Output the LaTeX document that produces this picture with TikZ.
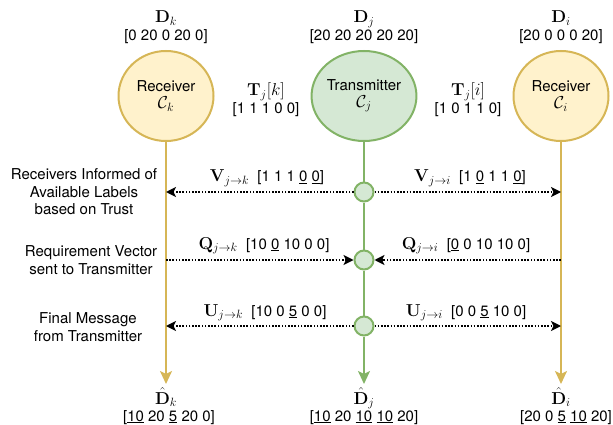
\documentclass[tikz,border=0pt]{standalone}
\usepackage[no-math]{fontspec}
\setmainfont{TeX Gyre Heros}
\usetikzlibrary{arrows.meta,shapes.geometric}
\definecolor{rcvfill}{HTML}{FFF2CC}
\definecolor{rcvline}{HTML}{D6B656}
\definecolor{txfill}{HTML}{D5E8D4}
\definecolor{txline}{HTML}{82B366}
% formulas are set a little larger than the surrounding text
\newcommand\mth[1]{{\fontsize{17.28}{19}\selectfont$#1$}}
\tikzset{
  party/.style={ellipse, line width=2pt, minimum width=95pt, minimum height=90pt,
    align=center, inner sep=0pt},
  rcv/.style={party, draw=rcvline, fill=rcvfill},
  tx/.style={party, draw=txline, fill=txfill},
  hub/.style={circle, draw=txline, fill=txfill, line width=2pt, minimum size=19pt, inner sep=0pt},
  rwire/.style={draw=rcvline, line width=2pt},
  gwire/.style={draw=txline, line width=2pt},
  downtip/.style={-{Stealth[length=13pt,width=12pt,inset=3pt]}},
  msg/.style={line width=1.6pt, dash pattern=on 1.6pt off 1.6pt,
    -{Stealth[length=10pt,width=10pt,inset=2.5pt]}},
  bl/.style={inner sep=0pt, anchor=base},
  note/.style={inner sep=0pt, align=center, font=\fontsize{15}{17.5}\selectfont},
}
\begin{document}
\begin{tikzpicture}[x=1pt, y=-1pt, font=\fontsize{15}{16.5}\selectfont]
\useasboundingbox (0,0) rectangle (613,425);

% the three parties
\node[rcv] (ck) at (166,96) {Receiver\\[0pt]\mth{\mathcal{C}_k}};
\node[tx]  (cj) at (364,96) {Transmitter\\[0pt]\mth{\mathcal{C}_j}};
\node[rcv] (ci) at (561,96) {Receiver\\[0pt]\mth{\mathcal{C}_i}};

% datasets held before the exchange
\node[bl] (dk) at (166,23) {\mth{\mathbf{D}_k}};
\node[bl] (dkv) at (166,41) {[0 20 0 20 0]};
\node[bl] (dj) at (364,23) {\mth{\mathbf{D}_j}};
\node[bl] (djv) at (364,41) {[20 20 20 20 20]};
\node[bl] (di) at (561,23) {\mth{\mathbf{D}_i}};
\node[bl] (div) at (561,41) {[20 0 0 0 20]};

% trust vectors
\node[bl] (tk) at (266,96) {\mth{\mathbf{T}_j[k]}};
\node[bl] (tkv) at (266,114) {[1 1 1 0 0]};
\node[bl] (ti) at (468,96) {\mth{\mathbf{T}_j[i]}};
\node[bl] (tiv) at (468,114) {[1 0 1 1 0]};

% timeline stations on the transmitter line
\node[hub] (h1) at (364,192) {};
\node[hub] (h2) at (364,260) {};
\node[hub] (h3) at (364,326) {};

% timeline ends
\coordinate (ek) at (166,384);
\coordinate (ej) at (364,384);
\coordinate (ei) at (561,384);

% points on the receiver lines
\coordinate (k1) at (166,192);
\coordinate (k2) at (166,260);
\coordinate (k3) at (166,326);
\coordinate (i1) at (561,192);
\coordinate (i2) at (561,260);
\coordinate (i3) at (561,326);

% timelines
\draw[rwire, downtip] (ck) -- (ek);
\draw[rwire, downtip] (ci) -- (ei);
\draw[gwire] (cj) -- (h1);
\draw[gwire] (h1) -- (h2);
\draw[gwire] (h2) -- (h3);
\draw[gwire, downtip] (h3) -- (ej);

% messages
\draw[msg] (h1) -- (k1);
\draw[msg] (h1) -- (i1);
\draw[msg] (k2) -- (h2);
\draw[msg] (i2) -- (h2);
\draw[msg] (h3) -- (k3);
\draw[msg] (h3) -- (i3);

\node[bl] (vk) at (267,182) {\mth{\mathbf{V}_{j\rightarrow k}}\ \ [1 1 1 \underline{0} \underline{0}]};
\node[bl] (vi) at (470,182) {\mth{\mathbf{V}_{j\rightarrow i}}\ \ [1 \underline{0} 1 1 \underline{0}]};
\node[bl] (qk) at (264,249) {\mth{\mathbf{Q}_{j\rightarrow k}}\ \ [10 \underline{0} 10 0 0]};
\node[bl] (qi) at (466,249) {\mth{\mathbf{Q}_{j\rightarrow i}}\ \ [\underline{0} 0 10 10 0]};
\node[bl] (uk) at (265,316) {\mth{\mathbf{U}_{j\rightarrow k}}\ \ [10 0 \underline{5} 0 0]};
\node[bl] (ui) at (466,316) {\mth{\mathbf{U}_{j\rightarrow i}}\ \ [0 0 \underline{5} 10 0]};

% phase descriptions
\node[note] (p1) at (84,192) {Receivers Informed of\\Available Labels\\based on Trust};
\node[note] (p2) at (91,260) {Requirement Vector\\sent to Transmitter};
\node[note] (p3) at (88,327) {Final Message\\from Transmitter};

% datasets after the exchange
\node[bl] (hk) at (166,404) {\mth{\hat{\mathbf{D}}_k}};
\node[bl] (hkv) at (169,421) {[\underline{10} 20 \underline{5} 20 0]};
\node[bl] (hj) at (364,404) {\mth{\hat{\mathbf{D}}_j}};
\node[bl] (hjv) at (364,421) {[\underline{10} 20 \underline{10} \underline{10} 20]};
\node[bl] (hi) at (561,404) {\mth{\hat{\mathbf{D}}_i}};
\node[bl] (hiv) at (566,421) {[20 0 \underline{5} \underline{10} 20]};
\end{tikzpicture}
\end{document}
